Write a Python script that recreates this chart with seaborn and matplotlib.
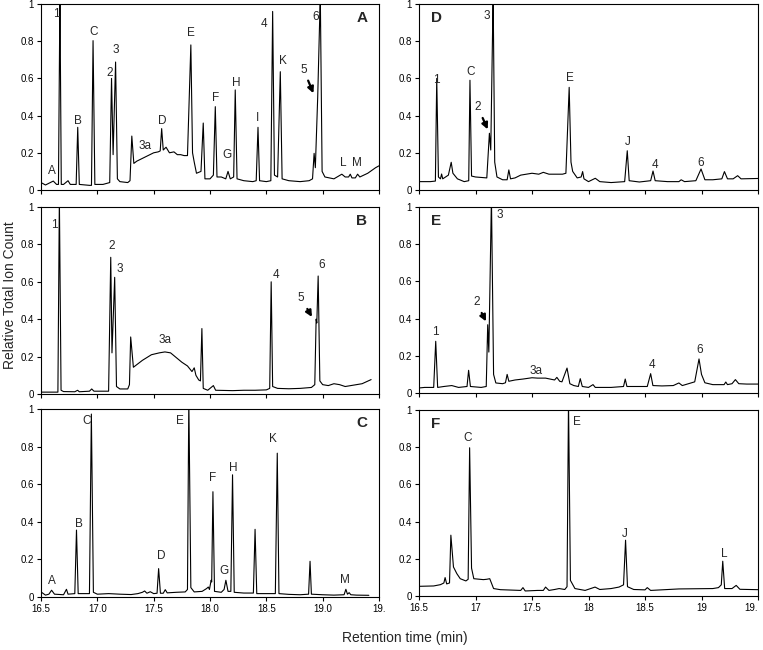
import numpy as np
import pandas as pd
import seaborn as sns
import matplotlib.pyplot as plt

# Chromatogram traces: vertices (retention time, relative TIC)
a_time = [16.5, 16.54, 16.609, 16.638, 16.655, 16.668, 16.68, 16.70, 16.74, 16.76, 16.812, 16.826, 16.84,
          16.93, 16.948, 16.962, 16.978, 17.05, 17.11, 17.126, 17.14, 17.162, 17.178, 17.20, 17.27, 17.29,
          17.306, 17.324, 17.35, 17.40, 17.45, 17.50, 17.54, 17.558, 17.571, 17.585, 17.61, 17.64, 17.68,
          17.71, 17.74, 17.77, 17.80, 17.83, 17.845, 17.86, 17.88, 17.92, 17.94, 17.955, 18.0, 18.03,
          18.047, 18.062, 18.10, 18.14, 18.16, 18.18, 18.21, 18.224, 18.24, 18.30, 18.38, 18.41, 18.426,
          18.44, 18.50, 18.54, 18.556, 18.572, 18.60, 18.624, 18.64, 18.70, 18.80, 18.88, 18.91, 18.924,
          18.935, 18.956, 18.979, 18.995, 19.02, 19.10, 19.17, 19.20, 19.23, 19.245, 19.26, 19.29, 19.31,
          19.33, 19.40, 19.47, 19.5]
a_signal = [0.04, 0.027, 0.048, 0.03, 0.03, 1.05, 0.03, 0.03, 0.05, 0.03, 0.03, 0.337, 0.03,
            0.025, 0.025, 0.803, 0.03, 0.03, 0.04, 0.60, 0.19, 0.688, 0.06, 0.045, 0.04, 0.05,
            0.29, 0.143, 0.155, 0.17, 0.185, 0.2, 0.205, 0.21, 0.33, 0.215, 0.23, 0.2, 0.205,
            0.19, 0.19, 0.185, 0.185, 0.78, 0.2, 0.15, 0.09, 0.1, 0.36, 0.06, 0.06, 0.08,
            0.448, 0.07, 0.07, 0.06, 0.1, 0.06, 0.07, 0.538, 0.06, 0.05, 0.045, 0.05, 0.337,
            0.05, 0.045, 0.05, 0.96, 0.08, 0.07, 0.636, 0.06, 0.05, 0.045, 0.05, 0.06, 0.197,
            0.12, 0.50, 1.05, 0.1, 0.07, 0.06, 0.085, 0.07, 0.07, 0.085, 0.065, 0.065, 0.085,
            0.07, 0.09, 0.12, 0.13]

b_time = [16.5, 16.62, 16.65, 16.663, 16.678, 16.70, 16.80, 16.825, 16.84, 16.93, 16.95, 16.97, 17.10,
          17.119, 17.13, 17.154, 17.17, 17.20, 17.27, 17.285, 17.296, 17.32, 17.40, 17.48, 17.55, 17.60,
          17.65, 17.70, 17.75, 17.80, 17.84, 17.86, 17.875, 17.90, 17.915, 17.928, 17.94, 17.98, 18.03,
          18.05, 18.2, 18.3, 18.4, 18.5, 18.53, 18.543, 18.556, 18.6, 18.7, 18.8, 18.9, 18.93, 18.942,
          18.948, 18.96, 18.975, 19.0, 19.05, 19.1, 19.15, 19.2, 19.25, 19.3, 19.35, 19.43]
b_signal = [0.01, 0.01, 0.01, 1.05, 0.02, 0.013, 0.012, 0.02, 0.012, 0.015, 0.027, 0.015, 0.015,
            0.731, 0.22, 0.624, 0.04, 0.027, 0.027, 0.05, 0.305, 0.143, 0.18, 0.21, 0.22, 0.225,
            0.22, 0.195, 0.17, 0.15, 0.12, 0.14, 0.1, 0.075, 0.07, 0.35, 0.03, 0.02, 0.045,
            0.02, 0.018, 0.02, 0.02, 0.022, 0.03, 0.60, 0.04, 0.03, 0.028, 0.03, 0.035, 0.05, 0.40,
            0.38, 0.631, 0.07, 0.05, 0.045, 0.055, 0.05, 0.04, 0.045, 0.05, 0.055, 0.077]

c_time = [16.5, 16.54, 16.57, 16.594, 16.62, 16.70, 16.726, 16.74, 16.80, 16.815, 16.83, 16.93, 16.947,
          16.965, 17.0, 17.1, 17.2, 17.3, 17.36, 17.4, 17.42, 17.44, 17.47, 17.50, 17.53, 17.544, 17.56,
          17.585, 17.603, 17.62, 17.70, 17.78, 17.80, 17.812, 17.83, 17.86, 17.93, 17.97, 17.985, 17.995,
          18.01, 18.015, 18.026, 18.04, 18.10, 18.125, 18.141, 18.16, 18.185, 18.2, 18.215, 18.3, 18.385,
          18.4, 18.415, 18.5, 18.58, 18.597, 18.612, 18.7, 18.8, 18.875, 18.888, 18.9, 19.0, 19.1,
          19.19, 19.206, 19.22, 19.235, 19.25, 19.3, 19.41]
c_signal = [0.027, 0.01, 0.015, 0.036, 0.015, 0.012, 0.041, 0.015, 0.018, 0.356, 0.018, 0.018, 0.973,
            0.025, 0.015, 0.018, 0.015, 0.013, 0.018, 0.025, 0.032, 0.02, 0.028, 0.018, 0.02, 0.151, 0.02,
            0.02, 0.039, 0.022, 0.025, 0.027, 0.04, 1.05, 0.05, 0.027, 0.03, 0.045, 0.053, 0.04,
            0.089, 0.08, 0.56, 0.03, 0.025, 0.04, 0.089, 0.03, 0.03, 0.65, 0.025, 0.021, 0.021,
            0.36, 0.018, 0.018, 0.018, 0.765, 0.018, 0.014, 0.012, 0.015, 0.19, 0.015, 0.012, 0.01,
            0.012, 0.041, 0.015, 0.023, 0.012, 0.01, 0.009]

d_time = [16.5, 16.6, 16.645, 16.657, 16.672, 16.69, 16.70, 16.71, 16.76, 16.785, 16.80, 16.84, 16.90,
          16.94, 16.951, 16.965, 17.0, 17.1, 17.123, 17.135, 17.156, 17.17, 17.19, 17.24, 17.28, 17.295,
          17.31, 17.35, 17.40, 17.45, 17.50, 17.56, 17.60, 17.65, 17.70, 17.77, 17.80, 17.829, 17.845,
          17.86, 17.9, 17.935, 17.948, 17.96, 18.0, 18.06, 18.1, 18.2, 18.32, 18.343, 18.36, 18.45,
          18.55, 18.571, 18.59, 18.7, 18.8, 18.82, 18.85, 18.95, 18.996, 19.03, 19.1, 19.18, 19.203,
          19.23, 19.28, 19.32, 19.35, 19.5]
d_signal = [0.045, 0.045, 0.048, 0.60, 0.07, 0.06, 0.086, 0.06, 0.08, 0.149, 0.09, 0.06, 0.045,
            0.05, 0.59, 0.075, 0.07, 0.065, 0.305, 0.215, 1.05, 0.15, 0.07, 0.055, 0.055, 0.108,
            0.06, 0.065, 0.08, 0.085, 0.09, 0.085, 0.095, 0.085, 0.085, 0.085, 0.09, 0.552, 0.15,
            0.1, 0.065, 0.07, 0.099, 0.06, 0.045, 0.063, 0.045, 0.04, 0.045, 0.211, 0.05, 0.043,
            0.05, 0.102, 0.05, 0.045, 0.045, 0.055, 0.045, 0.05, 0.113, 0.055, 0.055, 0.06, 0.099,
            0.06, 0.06, 0.077, 0.06, 0.062]

e_time = [16.5, 16.55, 16.63, 16.648, 16.665, 16.72, 16.79, 16.85, 16.925, 16.939, 16.955, 17.05, 17.095,
          17.108, 17.118, 17.141, 17.16, 17.18, 17.24, 17.265, 17.28, 17.295, 17.35, 17.42, 17.50, 17.55,
          17.62, 17.70, 17.72, 17.745, 17.765, 17.81, 17.835, 17.87, 17.91, 17.927, 17.945, 18.0, 18.04,
          18.06, 18.2, 18.31, 18.325, 18.34, 18.4, 18.52, 18.55, 18.57, 18.65, 18.75, 18.80, 18.83,
          18.94, 18.978, 19.0, 19.03, 19.1, 19.2, 19.215, 19.23, 19.27, 19.30, 19.33, 19.4, 19.5]
e_signal = [0.027, 0.03, 0.03, 0.278, 0.03, 0.035, 0.04, 0.03, 0.035, 0.122, 0.035, 0.03, 0.035,
            0.367, 0.22, 1.05, 0.1, 0.054, 0.05, 0.055, 0.10, 0.063, 0.07, 0.075, 0.082, 0.08,
            0.08, 0.07, 0.084, 0.063, 0.06, 0.134, 0.05, 0.04, 0.035, 0.077, 0.035, 0.03, 0.045,
            0.03, 0.03, 0.035, 0.075, 0.035, 0.035, 0.035, 0.104, 0.04, 0.038, 0.04, 0.054, 0.04,
            0.06, 0.183, 0.1, 0.055, 0.045, 0.045, 0.059, 0.045, 0.05, 0.072, 0.05, 0.048, 0.048]

f_time = [16.5, 16.63, 16.69, 16.72, 16.731, 16.745, 16.77, 16.782, 16.805, 16.835, 16.865, 16.915, 16.935,
          16.948, 16.965, 16.985, 17.07, 17.10, 17.126, 17.16, 17.22, 17.4, 17.42, 17.44, 17.55, 17.6,
          17.62, 17.65, 17.70, 17.74, 17.79, 17.81, 17.823, 17.84, 17.88, 17.97, 18.058, 18.1, 18.2,
          18.27, 18.31, 18.328, 18.345, 18.40, 18.5, 18.52, 18.55, 18.8, 19.1, 19.15, 19.175, 19.188,
          19.205, 19.27, 19.307, 19.34, 19.5]
f_signal = [0.052, 0.054, 0.061, 0.07, 0.099, 0.065, 0.07, 0.327, 0.156, 0.12, 0.093, 0.081, 0.09,
            0.797, 0.15, 0.093, 0.088, 0.09, 0.093, 0.04, 0.034, 0.03, 0.045, 0.027, 0.03, 0.03,
            0.048, 0.03, 0.035, 0.04, 0.035, 0.05, 1.05, 0.084, 0.04, 0.03, 0.048, 0.035, 0.04,
            0.048, 0.06, 0.30, 0.05, 0.035, 0.033, 0.045, 0.03, 0.038, 0.04, 0.045, 0.06, 0.187,
            0.04, 0.04, 0.057, 0.036, 0.034]

# Peak labels (text, time, height)
a_labels = ["A", "1", "B", "C", "2", "3", "3a", "D", "E", "F", "G", "H", "I", "4", "K", "6", "L", "M"]
a_label_t = [16.594, 16.632, 16.832, 16.97, 17.106, 17.168, 17.424, 17.58, 17.835, 18.05, 18.15, 18.23,
             18.426, 18.476, 18.647, 18.94, 19.18, 19.30]
a_label_y = [0.104, 0.946, 0.371, 0.851, 0.627, 0.753, 0.237, 0.371, 0.842, 0.493, 0.188, 0.577,
             0.385, 0.892, 0.694, 0.932, 0.143, 0.143]

b_labels = ["1", "2", "3", "3a", "4", "6"]
b_label_t = [16.619, 17.131, 17.199, 17.604, 18.584, 18.987]
b_label_y = [0.905, 0.789, 0.667, 0.287, 0.636, 0.69]

c_labels = ["A", "B", "C", "D", "E", "F", "G", "H", "K", "M"]
c_label_t = [16.594, 16.838, 16.906, 17.571, 17.735, 18.024, 18.12, 18.209, 18.562, 19.197]
c_label_y = [0.085, 0.386, 0.934, 0.217, 0.934, 0.632, 0.137, 0.685, 0.84, 0.089]

d_labels = ["1", "C", "3", "E", "J", "4", "6"]
d_label_t = [16.657, 16.96, 17.096, 17.835, 18.349, 18.586, 18.996]
d_label_y = [0.59, 0.636, 0.935, 0.60, 0.26, 0.134, 0.143]

e_labels = ["1", "3", "3a", "4", "6"]
e_label_t = [16.642, 17.215, 17.533, 18.562, 18.987]
e_label_y = [0.328, 0.959, 0.116, 0.149, 0.229]

f_labels = ["C", "E", "J", "L"]
f_label_t = [16.93, 17.895, 18.319, 19.203]
f_label_y = [0.847, 0.937, 0.336, 0.228]

# Arrowed labels: (text, label t, label y, tip t, tip y)
a_arrow = ("5", 18.832, 0.645, 18.918, 0.52)
b_arrow = ("5", 18.81, 0.511, 18.905, 0.412)
d_arrow = ("2", 17.022, 0.444, 17.108, 0.326)
e_arrow = ("2", 17.007, 0.487, 17.093, 0.385)

# x tick labels as printed (last one is cut off in the original)
left_xlabels = ["16.5", "17.0", "17.5", "18.0", "18.5", "19.0", "19."]
right_xlabels = ["16.5", "17", "17.5", "18", "18.5", "19", "19."]

panels = [
    ("A", a_time, a_signal, a_labels, a_label_t, a_label_y, a_arrow, [41, 4, 379, 190], "right"),
    ("B", b_time, b_signal, b_labels, b_label_t, b_label_y, b_arrow, [41, 207, 379, 394], "right"),
    ("C", c_time, c_signal, c_labels, c_label_t, c_label_y, None, [41, 409, 379, 597], "right"),
    ("D", d_time, d_signal, d_labels, d_label_t, d_label_y, d_arrow, [419, 4, 758, 190], "left"),
    ("E", e_time, e_signal, e_labels, e_label_t, e_label_y, e_arrow, [419, 207, 758, 393], "left"),
    ("F", f_time, f_signal, f_labels, f_label_t, f_label_y, None, [419, 410, 758, 596], "left"),
]

sns.set_style("ticks")
plt.rcParams['font.family'] = ['Liberation Sans', 'DejaVu Sans']

W, H = 763, 650
fig = plt.figure(figsize=(W / 100, H / 100), dpi=100)

xticks = [16.5, 17.0, 17.5, 18.0, 18.5, 19.0, 19.5]
yticks = [0, 0.2, 0.4, 0.6, 0.8, 1.0]

for name, t, s, labels, lt, ly, arrow, box, corner in panels:
    x0, y0, x1, y1 = box
    ax = fig.add_axes([x0 / W, 1 - y1 / H, (x1 - x0) / W, (y1 - y0) / H])
    df = pd.DataFrame({"time": t, "signal": s})
    sns.lineplot(data=df, x="time", y="signal", ax=ax, color="black",
                 linewidth=0.8, estimator=None, sort=False)
    ax.set_xlim(16.5, 19.5)
    ax.set_ylim(0, 1)
    ax.set_xlabel("")
    ax.set_ylabel("")
    ax.set_yticks(yticks)
    ax.set_yticklabels(["0", "0.2", "0.4", "0.6", "0.8", "1"])
    ax.set_xticks(xticks)
    if name == "C":
        ax.set_xticklabels(left_xlabels)
    elif name == "F":
        ax.set_xticklabels(right_xlabels)
        # keep the last label inside the figure edge
        ax.get_xticklabels()[-1].set_horizontalalignment("right")
    else:
        ax.set_xticklabels([])
    ax.tick_params(direction="out", length=3, width=0.8, labelsize=7, pad=2, colors="black")
    for sp in ax.spines.values():
        sp.set_linewidth(0.8)
        sp.set_color("black")

    for lab, tx, ty in zip(labels, lt, ly):
        ax.text(tx, ty, lab, ha="center", va="center", fontsize=8.5)
    if arrow is not None:
        lab, tx, ty, hx, hy = arrow
        ax.annotate(lab, xy=(hx, hy), xytext=(tx, ty), ha="center", va="center", fontsize=8.5,
                    arrowprops=dict(arrowstyle="-|>", color="black", lw=1.6,
                                    mutation_scale=9, shrinkA=1, shrinkB=0))
    if corner == "right":
        ax.text(0.965, 0.925, name, transform=ax.transAxes, ha="right", va="center",
                fontsize=11, fontweight="bold")
    else:
        ax.text(0.035, 0.925, name, transform=ax.transAxes, ha="left", va="center",
                fontsize=11, fontweight="bold")

fig.text(10 / W, 1 - 295 / H, "Relative Total Ion Count", rotation=90,
         ha="center", va="center", fontsize=10)
fig.text(405 / W, 1 - 638 / H, "Retention time (min)", ha="center", va="center", fontsize=10)

fig.savefig("out.png", dpi=100)
